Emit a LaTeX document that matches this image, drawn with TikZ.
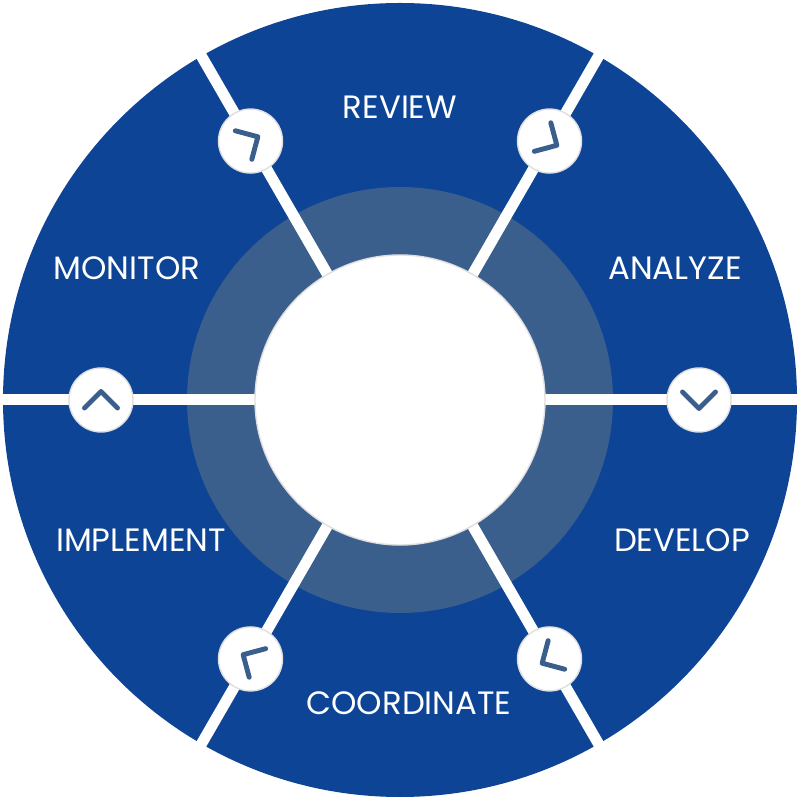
\documentclass[tikz,border=0pt]{standalone}
\usepackage{fontspec}
\setmainfont{Poppins}
\definecolor{cycleblue}{RGB}{13,68,150}
\definecolor{ringblue}{RGB}{58,95,140}
\tikzset{
  stage/.style={text=white, font=\fontsize{9.2}{11}\selectfont},
  hop/.style={circle, fill=white, draw=gray!25, line width=0.4pt, minimum size=0.64cm, inner sep=0pt},
  chev/.style={draw=ringblue, line width=1.4pt, line cap=round, line join=round},
  gap/.style={draw=white, line width=0.11cm},
  hub/.style={circle, fill=white, draw=gray!25, line width=0.4pt, minimum size=2.9cm, inner sep=0pt}
}
\begin{document}
\begin{tikzpicture}
    \useasboundingbox (-4,-4) rectangle (4,4);
    % wheel and ring
    \fill[cycleblue] (0,0) circle (3.97);
    \fill[ringblue] (0,0) circle (2.13);
    % separators
    \foreach \a in {0,60,...,300}
        \draw[gap] (0,0) -- (\a:4.05);
    \node[hub] (hub) at (0,0) {};
    % hops with chevrons, clockwise
    \foreach \a/\n in {0/h1,60/h2,120/h3,180/h4,240/h5,300/h6} {
        \node[hop] (\n) at (\a:2.99) {};
        \draw[chev, rotate around={\a:(\n.center)}]
            ([shift={(-0.165,0.08)}]\n.center) -- ([shift={(0,-0.085)}]\n.center) -- ([shift={(0.165,0.08)}]\n.center);
    }
    % stages
    \node[stage] (review) at (0,2.93) {REVIEW};
    \node[stage] (analyze) at (2.75,1.32) {ANALYZE};
    \node[stage] (develop) at (2.82,-1.40) {DEVELOP};
    \node[stage] (coordinate) at (0.09,-3.03) {COORDINATE};
    \node[stage] (implement) at (-2.59,-1.40) {IMPLEMENT};
    \node[stage] (monitor) at (-2.73,1.32) {MONITOR};
\end{tikzpicture}
\end{document}
